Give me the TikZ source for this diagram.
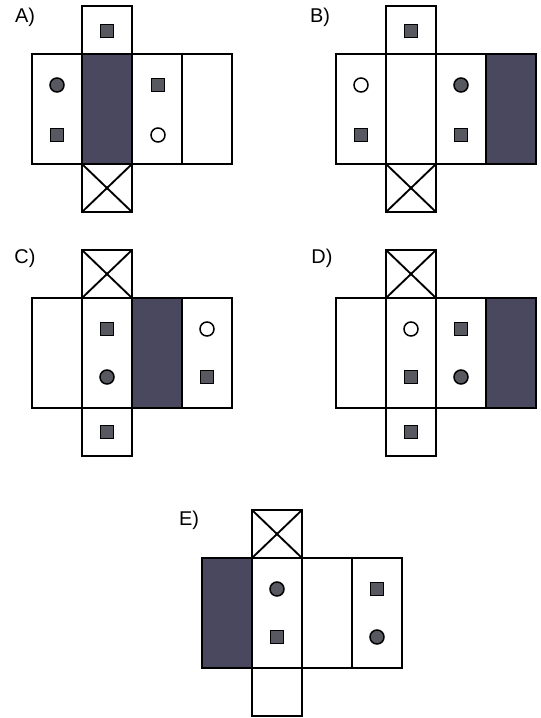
\documentclass[tikz,border=0pt]{standalone}
\usepackage{fontspec}
\setmainfont{Liberation Sans}
\usetikzlibrary{positioning}

\definecolor{panelgray}{RGB}{74,72,94}
\definecolor{markgray}{RGB}{88,88,96}

\tikzset{
  edge/.style={draw=black,line width=1.6pt},
  panel/.style={fill=panelgray,draw=black,line width=2.2pt},
  sqmark/.style={rectangle,draw=black,line width=1.3pt,fill=markgray,minimum size=0.39cm,inner sep=0pt},
  dotmark/.style={circle,draw=black,line width=1.3pt,fill=markgray,minimum size=0.42cm,inner sep=0pt},
  ringmark/.style={circle,draw=black,line width=1.3pt,fill=white,minimum size=0.42cm,inner sep=0pt},
  tag/.style={font=\fontsize{17}{20}\selectfont,anchor=center}
}

\begin{document}
\begin{tikzpicture}[x=0.03cm,y=-0.03cm]
\useasboundingbox[fill=white] (0,0) rectangle (541,718);

% net A
\node[tag] (labA) at (25,17) {A)};
\draw[edge] (32,54) rectangle (232,164);
\draw[edge] (182,54) -- (182,164);
\draw[edge] (82,6) rectangle (132,54);
\draw[edge] (82,164) rectangle (132,212);
\draw[edge] (82,164) -- (132,212);
\draw[edge] (132,164) -- (82,212);
\draw[panel] (82,54) rectangle (132,164);
\node[sqmark] (aTop) at (107,31) {};
\node[dotmark] (aDot) at (57,85) {};
\node[sqmark] (aSqL) at (57,135) {};
\node[sqmark] (aSqR) at (158,85) {};
\node[ringmark] (aRing) at (158,135) {};

% net B
\node[tag] (labB) at (320,17) {B)};
\draw[edge] (336,54) rectangle (536,164);
\draw[edge] (386,54) -- (386,164);
\draw[edge] (436,54) -- (436,164);
\draw[edge] (386,6) rectangle (436,54);
\draw[edge] (386,164) rectangle (436,212);
\draw[edge] (386,164) -- (436,212);
\draw[edge] (436,164) -- (386,212);
\draw[panel] (486,54) rectangle (536,164);
\node[sqmark] (bTop) at (411,31) {};
\node[ringmark] (bRing) at (361,85) {};
\node[sqmark] (bSqL) at (361,135) {};
\node[dotmark] (bDot) at (461,85) {};
\node[sqmark] (bSqR) at (461,135) {};

% net C
\node[tag] (labC) at (25,258) {C)};
\draw[edge] (32,298) rectangle (232,408);
\draw[edge] (82,298) -- (82,408);
\draw[edge] (82,250) rectangle (132,298);
\draw[edge] (82,250) -- (132,298);
\draw[edge] (132,250) -- (82,298);
\draw[edge] (82,408) rectangle (132,456);
\draw[panel] (132,298) rectangle (182,408);
\node[sqmark] (cBot) at (107,432) {};
\node[sqmark] (cSqL) at (107,329) {};
\node[dotmark] (cDot) at (107,377) {};
\node[ringmark] (cRing) at (207,329) {};
\node[sqmark] (cSqR) at (207,377) {};

% net D
\node[tag] (labD) at (322,258) {D)};
\draw[edge] (336,298) rectangle (536,408);
\draw[edge] (386,298) -- (386,408);
\draw[edge] (436,298) -- (436,408);
\draw[edge] (386,250) rectangle (436,298);
\draw[edge] (386,250) -- (436,298);
\draw[edge] (436,250) -- (386,298);
\draw[edge] (386,408) rectangle (436,456);
\draw[panel] (486,298) rectangle (536,408);
\node[sqmark] (dBot) at (411,432) {};
\node[ringmark] (dRing) at (411,329) {};
\node[sqmark] (dSqL) at (411,377) {};
\node[sqmark] (dSqR) at (461,329) {};
\node[dotmark] (dDot) at (461,377) {};

% net E
\node[tag] (labE) at (189,520) {E)};
\draw[edge] (202,558) rectangle (402,668);
\draw[edge] (302,558) -- (302,668);
\draw[edge] (352,558) -- (352,668);
\draw[edge] (252,510) rectangle (302,558);
\draw[edge] (252,510) -- (302,558);
\draw[edge] (302,510) -- (252,558);
\draw[edge] (252,668) rectangle (302,716);
\draw[panel] (202,558) rectangle (252,668);
\node[dotmark] (eDotL) at (277,589) {};
\node[sqmark] (eSqL) at (277,637) {};
\node[sqmark] (eSqR) at (377,589) {};
\node[dotmark] (eDotR) at (377,637) {};

\end{tikzpicture}
\end{document}
